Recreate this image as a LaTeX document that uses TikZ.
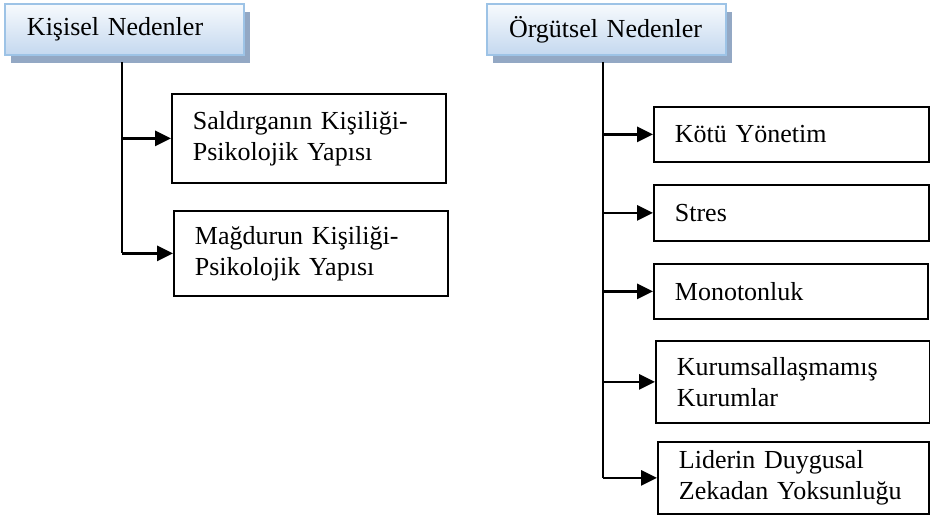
\documentclass[tikz,border=0pt]{standalone}
\usepackage{fontspec}
\setmainfont{Liberation Serif}
\usetikzlibrary{arrows.meta,shadows}
\definecolor{hdrborder}{HTML}{9DC3E6}
\definecolor{hdrtop}{HTML}{F7FAFD}
\definecolor{hdrbot}{HTML}{C4D8EF}
\definecolor{hdrshadow}{HTML}{93A8C4}
\begin{document}
\begin{tikzpicture}[x=1pt,y=-1pt,
  hdr/.style={draw=hdrborder, line width=2pt, shading=axis, top color=hdrtop, bottom color=hdrbot,
    drop shadow={shadow xshift=6pt, shadow yshift=-8pt, fill=hdrshadow, opacity=1},
    anchor=north west, minimum width=239pt, minimum height=51pt, inner xsep=22pt,
    text width=195pt, align=left, font=\fontsize{26}{31}\selectfont},
  itembox/.style={draw=black, line width=1.8pt, fill=white, anchor=north west, inner xsep=21pt,
    align=left, font=\fontsize{26}{31}\selectfont},
  trunk/.style={line width=2.2pt, black},
  arr/.style={line width=2.8pt, black, -{Triangle[length=16pt,width=15pt]}}]
\useasboundingbox (0,0) rectangle (930,525);
% headers
\node[hdr] (h1) at (4,3) {Kişisel Nedenler};
\node[hdr] (h2) at (486,3) {Örgütsel Nedenler};
% left boxes
\node[itembox, minimum width=274pt, minimum height=89pt, text width=232pt] (b1) at (171,93) {Saldırganın Kişiliği-\\Psikolojik Yapısı};
\node[itembox, minimum width=274pt, minimum height=85pt, text width=232pt] (b2) at (173,210) {Mağdurun Kişiliği-\\Psikolojik Yapısı};
% right boxes
\node[itembox, minimum width=275pt, minimum height=55pt, text width=233pt] (r1) at (653,106) {Kötü Yönetim};
\node[itembox, minimum width=275pt, minimum height=56pt, text width=233pt] (r2) at (653,184) {Stres};
\node[itembox, minimum width=274pt, minimum height=55pt, text width=232pt] (r3) at (653,263) {Monotonluk};
\node[itembox, minimum width=274pt, minimum height=82pt, text width=232pt] (r4) at (655,340) {Kurumsallaşmamış\\Kurumlar};
\node[itembox, minimum width=271pt, minimum height=72pt, text width=229pt] (r5) at (657,441) {Liderin Duygusal\\Zekadan Yoksunluğu};
% trunks
\coordinate (t1) at (122,62);
\coordinate (t2) at (603,62);
\draw[trunk] (t1) -- (t1 |- b2.west);
\draw[trunk] (t2) -- (t2 |- r5.west);
% arrows
\draw[arr] (t1 |- b1.west) -- (b1.west);
\draw[arr] (t1 |- b2.west) -- (b2.west);
\draw[arr] (t2 |- r1.west) -- (r1.west);
\draw[arr] (t2 |- r2.west) -- (r2.west);
\draw[arr] (t2 |- r3.west) -- (r3.west);
\draw[arr] (t2 |- r4.west) -- (r4.west);
\draw[arr] (t2 |- r5.west) -- (r5.west);
\end{tikzpicture}
\end{document}
